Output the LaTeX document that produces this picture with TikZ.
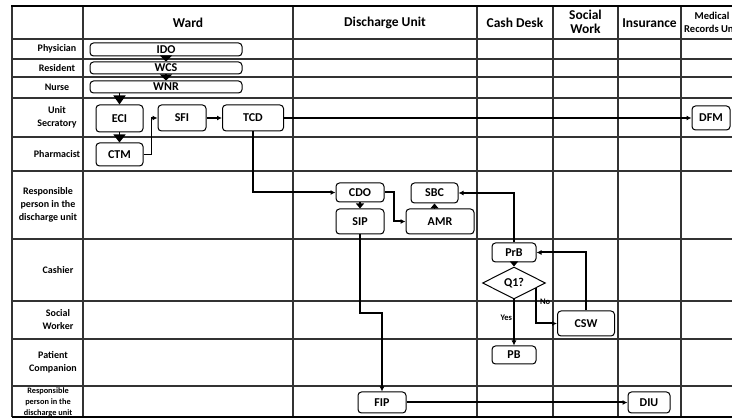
\documentclass[tikz,border=0pt]{standalone}
\usepackage{fontspec}
\setmainfont{Carlito}
\usetikzlibrary{arrows.meta,shapes.geometric,calc}
\begin{document}
\begin{tikzpicture}[x=1pt,y=-1pt,
  box/.style={draw, rounded corners=3.5pt, line width=1pt, fill=white, inner sep=0pt, font=\fontsize{12}{13}\selectfont\bfseries},
  conn/.style={line width=2pt, -{Latex[length=5pt,width=5pt]}},
  bigtri/.style={line width=1.5pt, -{Triangle[length=#1,width=12pt]}},
  smalltri/.style={line width=1.5pt, -{Triangle[length=5pt,width=8pt]}},
  lab/.style={font=\fontsize{10}{13}\selectfont\bfseries, align=center},
  hdr/.style={font=\fontsize{13.5}{15}\selectfont\bfseries, align=center},
  gridline/.style={line width=1.1pt, draw=black!80},
  small/.style={font=\fontsize{8.5}{9}\selectfont\bfseries, inner sep=1pt}
]
\useasboundingbox (0,0) rectangle (732,419);
\clip (0,0) rectangle (732,419);
% grid
\foreach \xx in {12,83,293,477,553,618,681} \draw[gridline] (\xx,6) -- (\xx,417);
\foreach \yy in {39,59,77,98,137,171,239,301,339,386} \draw[gridline] (12,\yy) -- (760,\yy);
\draw[line width=2pt] (11,6) -- (760,6);
\draw[line width=1.5pt] (12,417) -- (760,417);
% headers
\node[hdr] (hward) at (188,23) {Ward};
\node[hdr] (hdis) at (385,23) {Discharge Unit};
\node[hdr] (hcash) at (515,23) {Cash Desk};
\node[hdr, font=\fontsize{13.5}{14.5}\selectfont\bfseries] (hsoc) at (585.5,22) {Social\\Work};
\node[hdr] (hins) at (649.5,23) {Insurance};
\node[font=\fontsize{10.5}{13}\selectfont\bfseries, align=center] (hmed) at (712,22) {Medical\\Records Unit};
% row labels
\node[lab] (lphy) at (57,49) {Physician};
\node[lab] (lres) at (57,68) {Resident};
\node[lab] (lnur) at (57,87.5) {Nurse};
\node[lab] (lsec) at (57,117.5) {Unit\\Secratory};
\node[lab] (lpha) at (57,154) {Pharmacist};
\node[lab] (lrsp) at (48,205) {Responsible\\person in the\\discharge unit};
\node[lab] (lcas) at (58,270) {Cashier};
\node[lab] (lsw) at (58,320) {Social\\Worker};
\node[lab] (lpc) at (53,362) {Patient\\Companion};
\node[font=\fontsize{8.3}{11}\selectfont\bfseries, align=center] (lrsp2) at (48,402) {Responsible\\person in the\\discharge unit};
% boxes
\node[box, minimum width=152pt, minimum height=13pt] (IDO) at (166,49.5) {IDO};
\node[box, minimum width=152pt, minimum height=12pt] (WCS) at (166,68) {WCS};
\node[box, minimum width=152pt, minimum height=12pt] (WNR) at (166,87) {WNR};
\node[box, minimum width=47pt, minimum height=27pt] (ECI) at (119.5,118.5) {ECI};
\node[box, minimum width=47pt, minimum height=23pt] (CTM) at (119.5,154.5) {CTM};
\node[box, minimum width=48pt, minimum height=26pt] (SFI) at (182,118) {SFI};
\node[box, minimum width=61pt, minimum height=26pt] (TCD) at (253,118) {TCD};
\node[box, minimum width=38pt, minimum height=24pt] (DFM) at (711,118) {DFM};
\node[box, minimum width=48pt, minimum height=19pt] (CDO) at (360,192.5) {CDO};
\node[box, minimum width=48pt, minimum height=25pt] (SIP) at (360,221.5) {SIP};
\node[box, minimum width=68pt, minimum height=25pt] (AMR) at (440,221.5) {AMR};
\node[box, minimum width=47pt, minimum height=20pt] (SBC) at (434.5,193) {SBC};
\node[box, minimum width=44pt, minimum height=19pt] (PrB) at (514,252.5) {PrB};
\node[draw, diamond, line width=1pt, fill=white, inner sep=0pt, minimum width=63pt, minimum height=32pt, font=\fontsize{12}{13}\selectfont\bfseries] (Q1) at (514,283) {Q1?};
\node[box, minimum width=44pt, minimum height=18pt] (PB) at (514,355) {PB};
\node[box, minimum width=57pt, minimum height=25pt] (CSW) at (586,323.5) {CSW};
\node[box, minimum width=48pt, minimum height=21pt] (FIP) at (382,402.5) {FIP};
\node[box, minimum width=42pt, minimum height=21pt] (DIU) at (649,402.5) {DIU};
% connectors
\draw[bigtri=6pt] (IDO.south) -- (WCS.north);
\draw[bigtri=6pt] (WCS.south) -- (WNR.north);
\draw[bigtri=9pt] (ECI.north |- WNR.south) -- (ECI.north);
\draw[bigtri=8pt] (ECI.south) -- (CTM.north);
\draw[conn, line width=1.2pt] (CTM.east) -- ++(8,0) |- (SFI.west);
\draw[conn] (SFI.east) -- (TCD.west);
\draw[conn] (TCD.east) -- (DFM.west);
\draw[conn] (TCD.south) |- (CDO.west);
\draw[smalltri] (CDO.south) -- (SIP.north);
\draw[conn] (CDO.east) -- ++(9,0) |- (AMR.west);
\draw[smalltri] (SBC.south |- AMR.north) -- (SBC.south);
\draw[conn] (PrB.north) |- (SBC.east);
\draw[smalltri] (PrB.south) -- (Q1.north);
\draw[conn] (Q1.south) -- node[small, left, pos=0.4] (yes) {Yes} (PB.north);
\draw[conn] (Q1.-13) |- node[small, pos=0.2, right, xshift=2pt] (no) {No} (CSW.west);
\draw[conn] (CSW.north) |- (PrB.east);
\draw[conn] (SIP.south) -- ++(0,79) -| (FIP.north);
\draw[conn] (FIP.east) -- (DIU.west);
\end{tikzpicture}
\end{document}
